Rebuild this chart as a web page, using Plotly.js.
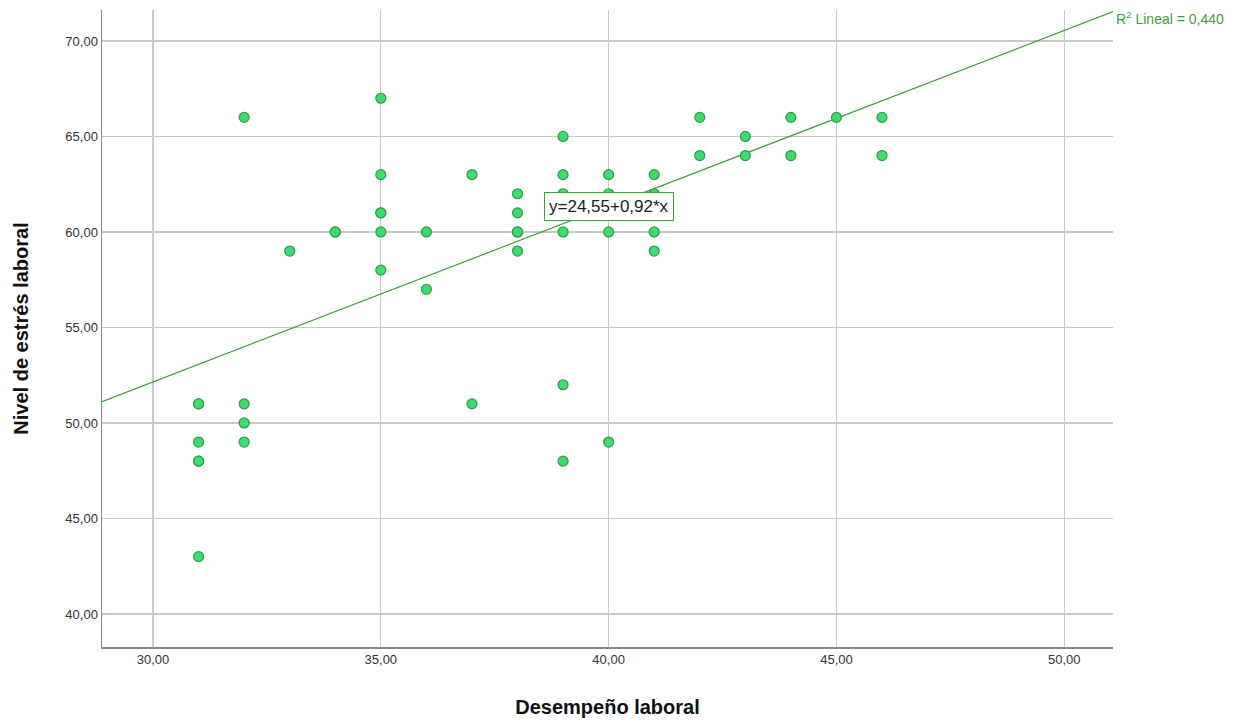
<!DOCTYPE html>
<html>
<head>
<meta charset="utf-8">
<script src="https://cdn.plot.ly/plotly-3.0.1.min.js"></script>
<style>html,body{margin:0;padding:0;background:#fff;}#chart{width:1251px;height:721px;}</style>
</head>
<body>
<div id="chart"></div>
<script>
// Data (x = Desempeño laboral, y = Nivel de estrés laboral)
const desempeno = [31,31,31,31,31,31, 32,32,32,32, 33, 34,34, 35,35,35,35,35,35, 36,36, 37,37, 38,38,38,38,38, 39,39,39,39,39,39, 40,40,40,40, 41,41,41,41, 42,42, 43,43, 44,44, 45, 46,46];
const estres    = [51,51,49,48,48,43, 66,51,50,49, 59, 60,60, 67,63,61,61,60,58, 60,57, 63,51, 62,61,60,60,59, 65,63,62,60,52,48, 63,62,60,49, 63,62,60,59, 66,64, 65,64, 66,64, 66, 66,64];
const intercept = 24.55;
const slope = 0.92;
const r2Text = "R<sup>2</sup> Lineal = 0,440";
const eqText = "y=24,55+0,92*x";
const xRange = [28.88, 51.07];
const yRange = [38.27, 71.62];
const xTicks = [30,35,40,45,50];
const yTicks = [40,45,50,55,60,65,70];

const lineX = [xRange[0], xRange[1]];
const lineY = lineX.map(v => intercept + slope * v);

const traces = [
  {
    x: lineX, y: lineY, type: 'scatter', mode: 'lines',
    line: {color: '#3f9e3f', width: 1.2}, hoverinfo: 'skip', showlegend: false
  },
  {
    x: desempeno, y: estres, type: 'scatter', mode: 'markers',
    marker: {size: 10, color: '#3ddc6f', line: {color: '#2f9a4a', width: 1.2}},
    showlegend: false
  }
];

const layout = {
  width: 1251, height: 721,
  margin: {l: 102, r: 138, t: 10, b: 74},
  paper_bgcolor: '#ffffff', plot_bgcolor: '#ffffff',
  separators: ',.',
  font: {family: 'Arial, "Liberation Sans", sans-serif', color: '#222'},
  xaxis: {
    range: xRange, tickvals: xTicks, tickformat: '.2f',
    showgrid: true, gridcolor: '#c8c8c8', gridwidth: 1.3,
    showline: true, linecolor: '#888', linewidth: 1.5,
    zeroline: false, ticks: '', ticklen: 0,
    tickfont: {size: 13, color: '#333'},
    title: {text: '<b>Desempeño laboral</b>', font: {size: 20, color: '#111'}, standoff: 34}
  },
  yaxis: {
    range: yRange, tickvals: yTicks, tickformat: '.2f',
    showgrid: true, gridcolor: '#c8c8c8', gridwidth: 1.3,
    showline: true, linecolor: '#888', linewidth: 1.5,
    zeroline: false, ticks: '',
    tickfont: {size: 13, color: '#333'},
    title: {text: '<b>Nivel de estrés laboral</b>', font: {size: 20, color: '#111'}, standoff: 31}
  },
  annotations: [
    {
      x: 40.0, y: 61.35, xref: 'x', yref: 'y', text: eqText, showarrow: false,
      font: {size: 17, color: '#222'}, bgcolor: '#ffffff',
      bordercolor: '#3f9e3f', borderwidth: 1, borderpad: 4
    },
    {
      x: 1, y: 71.2, xref: 'paper', yref: 'y', xanchor: 'left', yanchor: 'middle',
      xshift: 1, text: r2Text, showarrow: false,
      font: {size: 14, color: '#3f9e3f'}
    }
  ]
};

Plotly.newPlot('chart', traces, layout, {displayModeBar: false, staticPlot: true});
</script>
</body>
</html>
